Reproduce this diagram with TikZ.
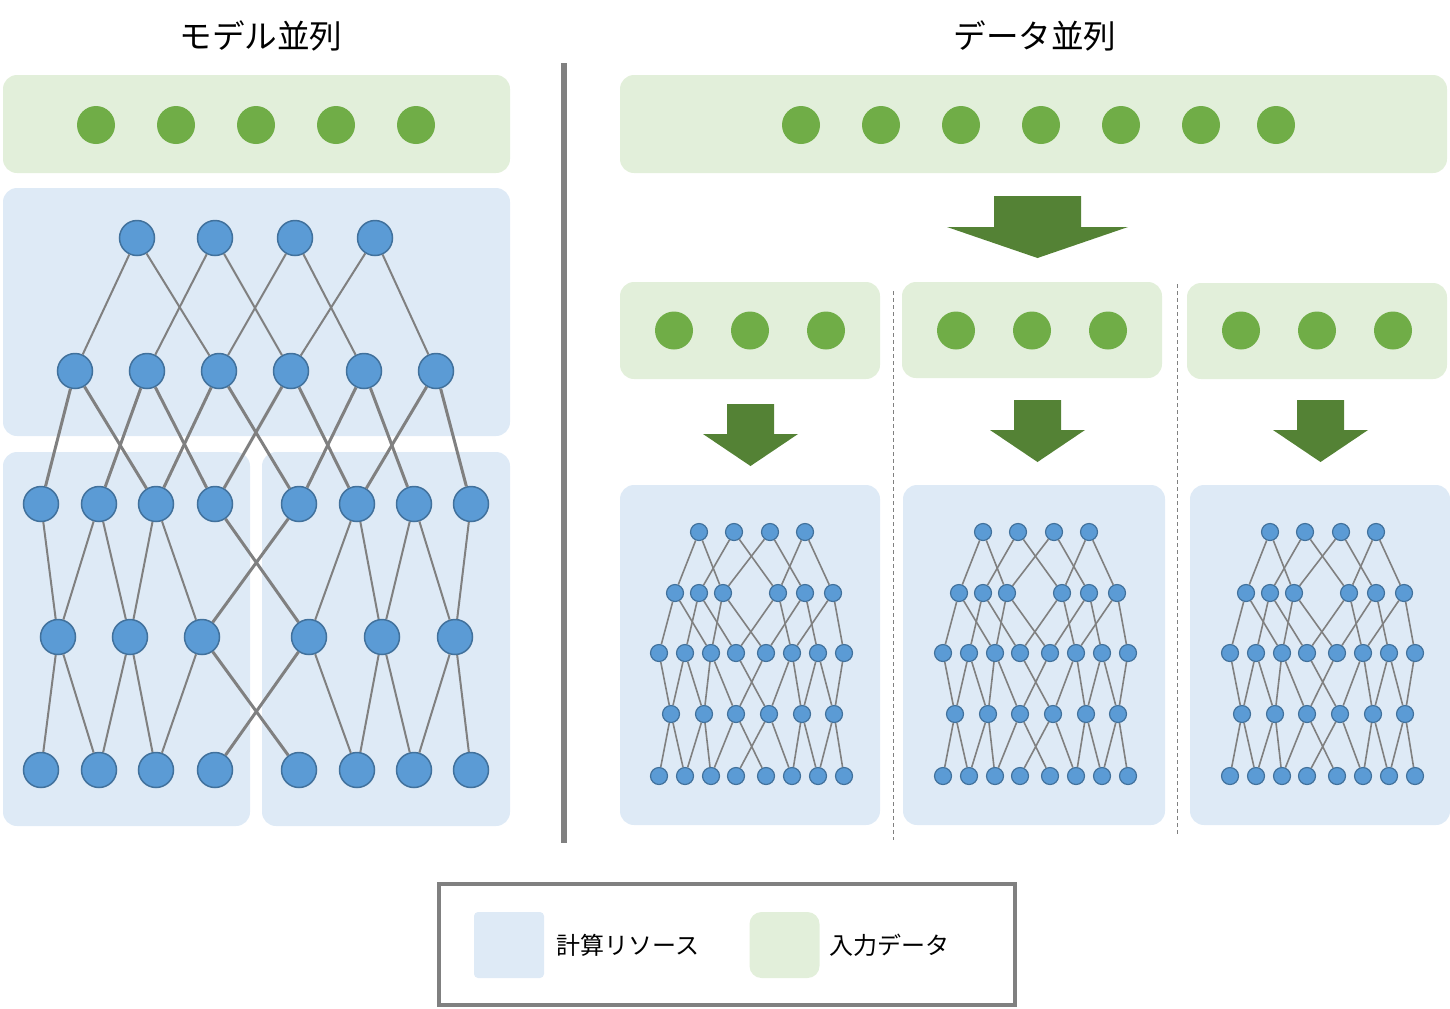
\documentclass[tikz,border=0pt]{standalone}
\usepackage{fontspec}
\newfontfamily\jpfont{Noto Sans CJK JP}
\usetikzlibrary{positioning}
\definecolor{computeblue}{RGB}{222,234,246}
\definecolor{inputgreen}{RGB}{226,239,218}
\definecolor{neuronfill}{RGB}{91,155,213}
\definecolor{neuronline}{RGB}{65,113,156}
\definecolor{datagreen}{RGB}{112,173,71}
\definecolor{arrowgreen}{RGB}{84,130,53}
\definecolor{wiregray}{RGB}{128,128,128}
% one row of neurons: name, x shift, y, style, x list
\newcommand{\netlayer}[5]{%
  \foreach \x [count=\i] in {#5} \node[#4] (#1\i) at (#2+\x,#3) {};}
% links of a five-row net: prefix, normal style, crossing style
\newcommand{\netwires}[3]{%
  \foreach \i [evaluate=\i as \j using int(\i+2)] in {1,...,4}
    \draw[#2] (#1a\i) -- (#1b\i) (#1a\i) -- (#1b\j);
  \foreach \i [evaluate=\i as \j using int(\i+2)] in {1,...,6}
    \draw[#3] (#1b\i) -- (#1c\i) (#1b\i) -- (#1c\j);
  \foreach \i/\j in {1/1,2/1,2/2,3/2,3/3,6/4,6/5,7/5,7/6,8/6}
    \draw[#2] (#1c\i) -- (#1d\j);
  \foreach \i/\j in {1/1,1/2,2/2,2/3,3/3,4/6,5/6,5/7,6/7,6/8}
    \draw[#2] (#1d\i) -- (#1e\j);
  \draw[#3] (#1c4) -- (#1d4) (#1c5) -- (#1d3) (#1d3) -- (#1e5) (#1d4) -- (#1e4);}
\begin{document}
\begin{tikzpicture}[x=0.5pt,y=-0.5pt,
  neuron/.style={circle,fill=neuronfill,draw=neuronline,line width=0.75pt,minimum size=17.5pt,inner sep=0pt},
  sneuron/.style={neuron,minimum size=8.5pt,line width=0.6pt},
  datum/.style={circle,fill=datagreen,minimum size=19pt,inner sep=0pt},
  wire/.style={draw=wiregray,line width=1pt},
  thickwire/.style={draw=wiregray,line width=1.5pt},
  swire/.style={draw=wiregray,line width=0.8pt},
  computebox/.style={fill=computeblue,rounded corners=7pt},
  inputbox/.style={fill=inputgreen,rounded corners=7pt},
  heading/.style={font=\jpfont\fontsize{16.3pt}{20pt}\selectfont},
  legendkey/.style={minimum width=35pt,minimum height=33pt,inner sep=0pt},
  legendtext/.style={font=\jpfont\fontsize{12pt}{15pt}\selectfont,inner sep=0pt}]
\useasboundingbox (0,0) rectangle (1450,1008);
% titles
\node[heading] (titlemodel) at (261,36) {モデル並列};
\node[heading] (titledata) at (1035,36) {データ並列};
% divider
\draw[wiregray,line width=2.8pt] (564,63) -- (564,843);
\draw[wiregray,line width=0.5pt,dash pattern=on 2pt off 1.5pt] (893,291) -- (893,840);
\draw[wiregray,line width=0.5pt,dash pattern=on 2pt off 1.5pt] (1177,284) -- (1177,835);
% model parallel: boxes
\fill[inputbox] (3,75) rectangle (510,173);
\fill[computebox] (3,188) rectangle (510,436);
\fill[computebox] (3,452) rectangle (250,826);
\fill[computebox] (262,452) rectangle (510,826);
\foreach \x [count=\i] in {96,176,256,336,416} \node[datum] (lin\i) at (\x,125) {};
% model parallel: net
\netlayer{la}{0}{238}{neuron}{137,215,295,375}
\netlayer{lb}{0}{371}{neuron}{75,147,219,291,364,436}
\netlayer{lc}{0}{504}{neuron}{41,99,156,215,299,357,414,471}
\netlayer{ld}{0}{637}{neuron}{58,130,202,309,382,455}
\netlayer{le}{0}{770}{neuron}{41,99,156,215,299,357,414,471}
\netwires{l}{wire}{thickwire}
% data parallel: input
\fill[inputbox] (620,75) rectangle (1447,173);
\foreach \x [count=\i] in {801,881,961,1041,1121,1201,1276} \node[datum] (rin\i) at (\x,125) {};
\fill[arrowgreen] (994,196) -- (1081,196) -- (1081,227) -- (1128,227) -- (1037.5,258)
  -- (947,227) -- (994,227) -- cycle;
% data parallel: split input
\fill[inputbox] (620,282) rectangle (880,379);
\fill[inputbox] (902,282) rectangle (1162,378);
\fill[inputbox] (1187,283) rectangle (1447,379);
\foreach \dx [count=\k] in {620,902,1187}
  \foreach \x [count=\i] in {54,130,206} \node[datum] (g\k\i) at (\dx+\x,330.5) {};
\foreach \cx/\ay in {750.5/404,1037.5/400,1320.5/400}
  \fill[arrowgreen] (\cx-23.5,\ay) -- (\cx+23.5,\ay) -- (\cx+23.5,\ay+30) -- (\cx+47.5,\ay+30)
    -- (\cx,\ay+62) -- (\cx-47.5,\ay+30) -- (\cx-23.5,\ay+30) -- cycle;
% data parallel: copies of the net
\fill[computebox] (620,485) rectangle (880,825);
\fill[computebox] (903,485) rectangle (1165,825);
\fill[computebox] (1190,485) rectangle (1450,825);
\foreach \dx [count=\k] in {620,904,1191} {
  \netlayer{s\k a}{\dx}{532}{sneuron}{79,114,150,185}
  \netlayer{s\k b}{\dx}{593}{sneuron}{55,79,103,158,185,213}
  \netlayer{s\k c}{\dx}{653}{sneuron}{39,65,91,116,146,172,198,224}
  \netlayer{s\k d}{\dx}{714}{sneuron}{51,84,116,149,182,214}
  \netlayer{s\k e}{\dx}{776}{sneuron}{39,65,91,116,146,172,198,224}
  \netwires{s\k}{swire}{swire}
}
% legend
\draw[wiregray,line width=2.3pt] (439,884) rectangle (1015,1005);
\node[legendkey,fill=computeblue,rounded corners=2pt] (keycompute) at (509,945) {};
\node[legendtext,right=6pt of keycompute] (labelcompute) {計算リソース};
\node[legendkey,fill=inputgreen,rounded corners=6pt] (keyinput) at (784.5,945) {};
\node[legendtext,right=4.5pt of keyinput] (labelinput) {入力データ};
\end{tikzpicture}
\end{document}
